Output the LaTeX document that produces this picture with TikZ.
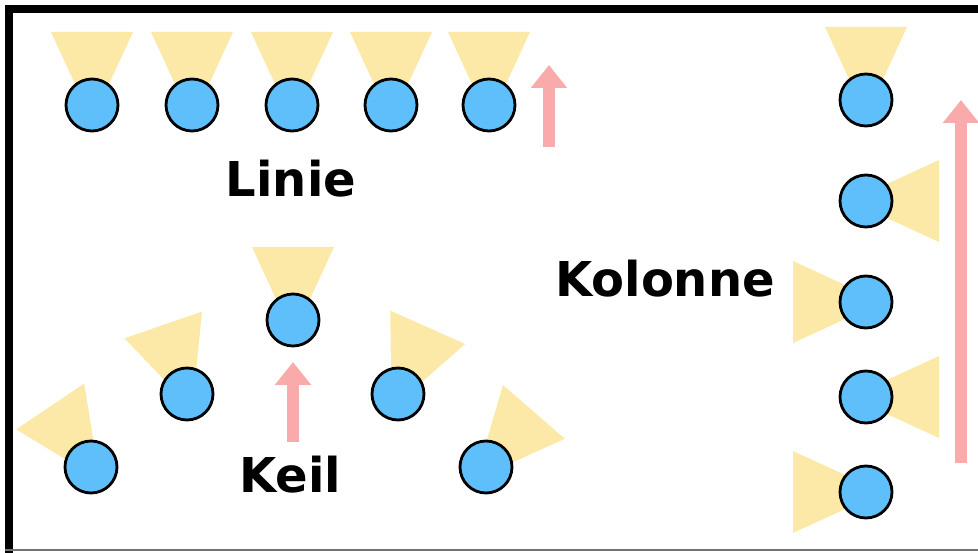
\documentclass[tikz,border=0pt]{standalone}
\usepackage{fontspec}
\setmainfont{DejaVu Sans}
\usetikzlibrary{arrows.meta}
\definecolor{robotblue}{RGB}{94,191,250}
\definecolor{beamyellow}{RGB}{252,233,168}
\definecolor{movepink}{RGB}{249,170,170}
\begin{document}
\begin{tikzpicture}[x=1pt,y=-1pt]
	\tikzset{robot/.style = {shape=circle,draw,line width=2.8pt,fill=robotblue,minimum size=52pt,inner sep=0pt}}
	\tikzset{move/.style = {movepink,line width=12pt,-{Triangle[width=35pt,length=23pt]}}}
	\tikzset{formname/.style = {font=\bfseries\fontsize{48}{50}\selectfont,anchor=base,inner sep=0pt}}
	\tikzset{beam/.pic = {\fill[beamyellow] (-16pt,0) -- (73pt,41pt) -- (73pt,-41pt) -- cycle;}}
	\useasboundingbox (0,0) rectangle (978,553);
	% frame
	\draw[line width=8pt] (9,553) -- (9,9) -- (978,9);
	\draw[line width=1.5pt,black!55] (5,550) -- (978,550);
	% Linie
	\foreach \x [count=\i] in {92,192,292,391,489} {
		\pic[rotate=90] at (\x,105) {beam};
		\node[robot] (li\i) at (\x,105) {};
	}
	\node[formname] (linie) at (291,197) {Linie};
	\coordinate (lifrom) at (549,147);
	\coordinate (lito) at (549,65);
	\draw[move] (lifrom) -- (lito);
	% Keil
	\foreach \x/\y/\a [count=\i] in {91/467/124,187/394/109,293/320/90,398/394/66,486/467/49} {
		\pic[rotate=\a] at (\x,\y) {beam};
		\node[robot] (ke\i) at (\x,\y) {};
	}
	\node[formname] (keil) at (290,492) {Keil};
	\coordinate (kefrom) at (293,442);
	\coordinate (keto) at (293,362);
	\draw[move] (kefrom) -- (keto);
	% Kolonne
	\foreach \y/\a [count=\i] in {100/90,201/0,302/180,397/0,492/180} {
		\pic[rotate=\a] at (866,\y) {beam};
		\node[robot] (ko\i) at (866,\y) {};
	}
	\node[formname] (kolonne) at (665,297) {Kolonne};
	\coordinate (kofrom) at (961,463);
	\coordinate (koto) at (961,100);
	\draw[move] (kofrom) -- (koto);
\end{tikzpicture}
\end{document}
